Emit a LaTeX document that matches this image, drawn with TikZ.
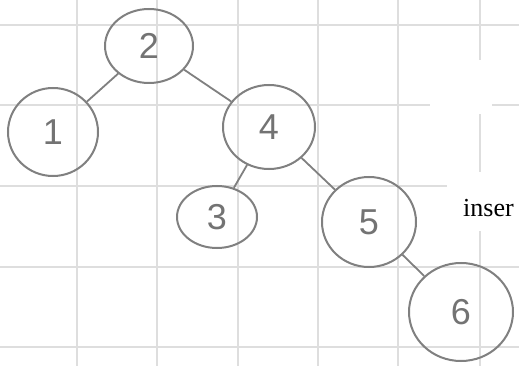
\documentclass[tikz,border=0pt]{standalone}
\usepackage{fontspec}
\setmainfont{Liberation Serif}
\newfontfamily\handfont{Liberation Sans}
\usetikzlibrary{shapes.geometric}
\begin{document}
\begin{tikzpicture}[x=1pt,y=-1pt,
  gridline/.style={draw=black!13,line width=1.6pt},
  tnode/.style={ellipse,draw=black!50,line width=2pt,inner sep=0pt,
    font=\handfont\fontsize{36}{36}\selectfont,text=black!55},
  tedge/.style={draw=black!50,line width=1.8pt}]
\useasboundingbox[fill=white] (0,0) rectangle (519,366);
% grid
\foreach \y in {25,105,186,267,347} \draw[gridline] (0,\y) -- (519,\y);
\foreach \x in {77,157,238,318,398,480} \draw[gridline] (\x,0) -- (\x,366);
\fill[white] (430,60) rectangle (492,114);
\fill[white] (447,172) rectangle (519,231);
% nodes
\node[tnode,minimum width=88pt,minimum height=74pt] (n2) at (149,46) {2};
\node[tnode,minimum width=90pt,minimum height=88pt] (n1) at (53,132) {1};
\node[tnode,minimum width=92pt,minimum height=84pt] (n4) at (269,127) {4};
\node[tnode,minimum width=80pt,minimum height=62pt] (n3) at (217,217) {3};
\node[tnode,minimum width=94pt,minimum height=90pt] (n5) at (369,222) {5};
\node[tnode,minimum width=104pt,minimum height=98pt] (n6) at (461,312) {6};
% edges
\draw[tedge] (n2) -- (n1);
\draw[tedge] (n2) -- (n4);
\draw[tedge] (n4) -- (n3);
\draw[tedge] (n4) -- (n5);
\draw[tedge] (n5) -- (n6);
% clipped label
\node[anchor=base west,inner sep=0pt,font=\fontsize{26}{26}\selectfont] (lbl) at (463,216) {inser};
\end{tikzpicture}
\end{document}
